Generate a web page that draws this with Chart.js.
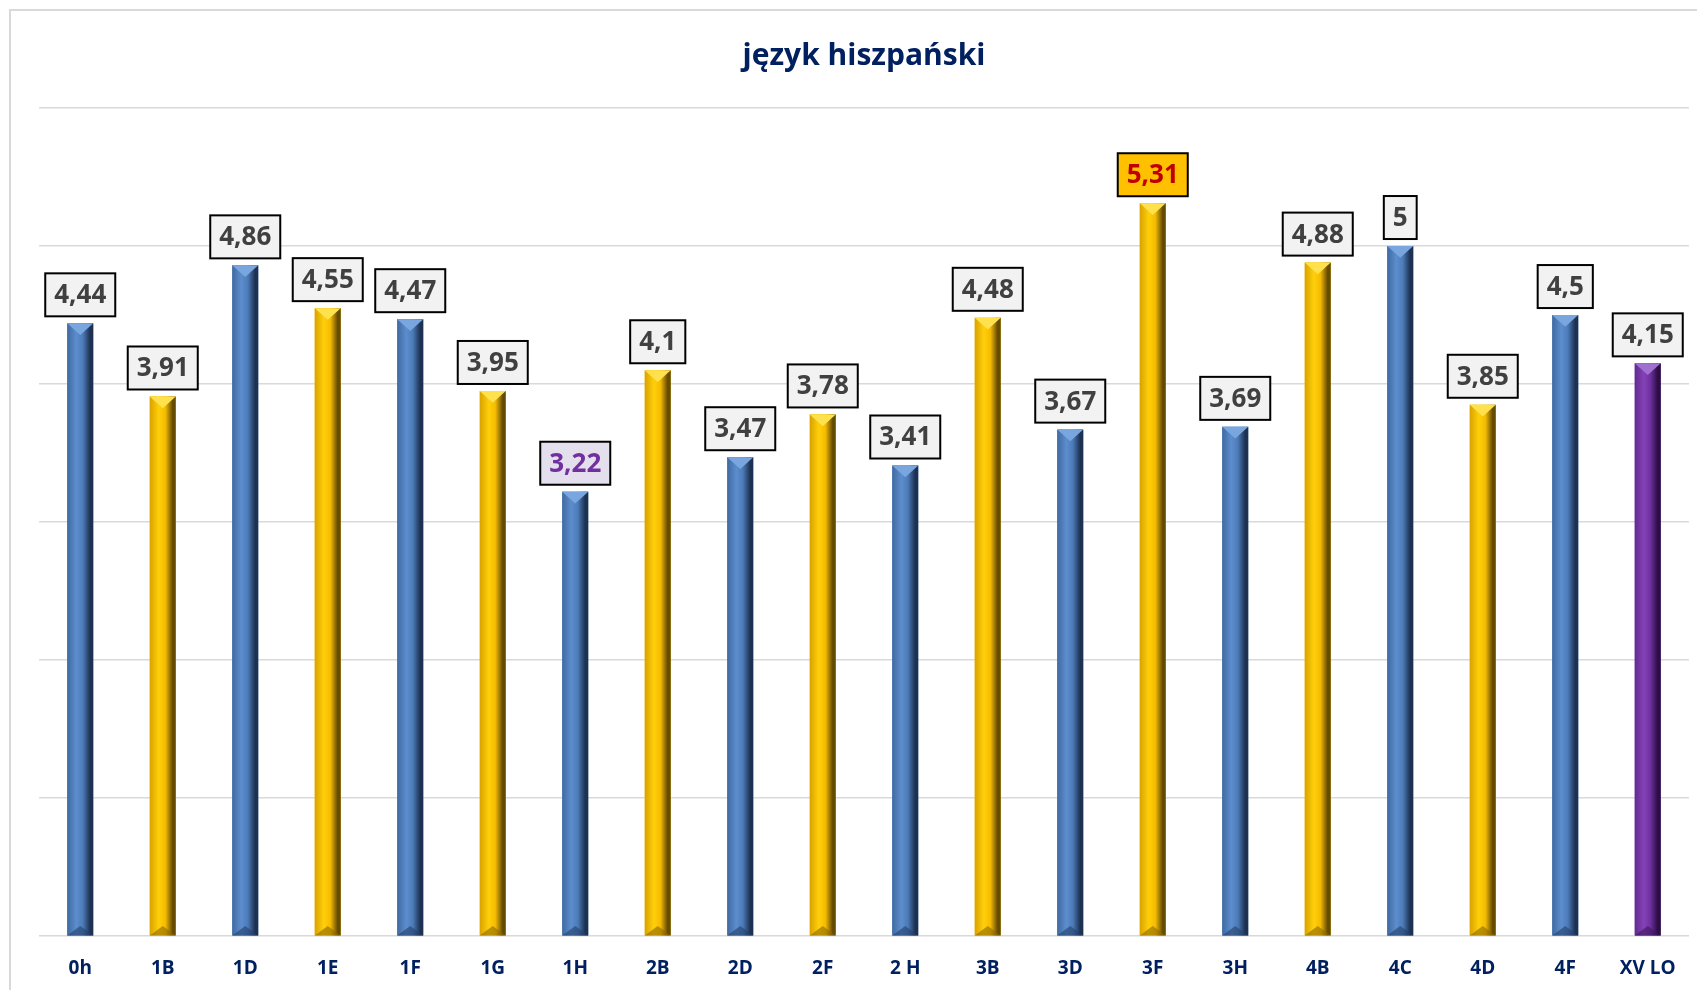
<!DOCTYPE html>
<html>
<head>
<meta charset="utf-8">
<script src="https://cdn.jsdelivr.net/npm/chart.js@4.4.1/dist/chart.umd.min.js"></script>
<style>
  html, body { margin: 0; padding: 0; background: #fff; overflow: hidden; }
  #frame { position: absolute; left: 9px; top: 9px; width: 1720px; height: 1010px; border: 2px solid #d9d9d9; }
  #wrap { position: absolute; left: 0; top: 0; width: 1697px; height: 1001px; }
</style>
</head>
<body>
<div id="frame"></div>
<div id="wrap"><canvas id="gradesChart"></canvas></div>
<script>
const categories = ['0h', '1B', '1D', '1E', '1F', '1G', '1H', '2B', '2D', '2F', '2 H', '3B', '3D', '3F', '3H', '4B', '4C', '4D', '4F', 'XV LO'];
const values = [4.44, 3.91, 4.86, 4.55, 4.47, 3.95, 3.22, 4.1, 3.47, 3.78, 3.41, 4.48, 3.67, 5.31, 3.69, 4.88, 5, 3.85, 4.5, 4.15];
const barKinds = ['blue', 'gold', 'blue', 'gold', 'blue', 'gold', 'blue', 'gold', 'blue', 'gold',
                  'blue', 'gold', 'blue', 'gold', 'blue', 'gold', 'blue', 'gold', 'blue', 'purple'];
const labelKinds = ['plain', 'plain', 'plain', 'plain', 'plain', 'plain', 'low', 'plain', 'plain', 'plain',
                    'plain', 'plain', 'plain', 'top', 'plain', 'plain', 'plain', 'plain', 'plain', 'plain'];

const palette = {
    blue:   { edge: '#3f6aa2', base: '#4c7bb8', light: '#5d8dcd', dark: '#1d3152', top: '#7aa6e0', bottom: '#24406a' },
    gold:   { edge: '#d9a200', base: '#f5bc00', light: '#ffcf0a', dark: '#654b00', top: '#ffe14d', bottom: '#8c6800' },
    purple: { edge: '#622a8e', base: '#7030a0', light: '#8442b8', dark: '#2c0e45', top: '#a070d0', bottom: '#3d155e' }
};
const labelStyles = {
    plain: { fill: '#f2f2f2', text: '#404040' },
    top:   { fill: '#ffc000', text: '#c00000' },
    low:   { fill: '#e4dfec', text: '#7030a0' }
};

// kolumny z efektem 3D (gradient + skosy), liczone z pozycji słupków Chart.js
const columnPlugin = {
    id: 'column3d',
    afterDatasetsDraw(chart) {
        const ctx = chart.ctx;
        chart.getDatasetMeta(0).data.forEach(function (bar, i) {
            const p = bar.getProps(['x', 'y', 'base', 'width'], true);
            const c = palette[barKinds[i]];
            const l = p.x - p.width / 2, r = p.x + p.width / 2;
            const g = ctx.createLinearGradient(l, 0, r, 0);
            g.addColorStop(0, c.edge);
            g.addColorStop(0.35, c.light);
            g.addColorStop(0.6, c.base);
            g.addColorStop(0.88, c.dark);
            g.addColorStop(1, c.dark);
            ctx.save();
            ctx.fillStyle = g;
            ctx.fillRect(l, p.y, p.width, p.base - p.y);
            const b = p.width * 0.45;
            ctx.fillStyle = c.top;
            ctx.beginPath();
            ctx.moveTo(l, p.y); ctx.lineTo(r, p.y); ctx.lineTo(p.x, p.y + b);
            ctx.closePath(); ctx.fill();
            ctx.fillStyle = c.bottom;
            ctx.globalAlpha = 0.6;
            ctx.beginPath();
            ctx.moveTo(l, p.base); ctx.lineTo(r, p.base); ctx.lineTo(p.x, p.base - b * 0.8);
            ctx.closePath(); ctx.fill();
            ctx.restore();
        });
    }
};

const labelPlugin = {
    id: 'valueBoxes',
    afterDraw(chart) {
        const ctx = chart.ctx;
        ctx.save();
        ctx.font = 'bold 26px "Open Sans"';
        ctx.textAlign = 'center';
        ctx.textBaseline = 'middle';
        chart.getDatasetMeta(0).data.forEach(function (bar, i) {
            const p = bar.getProps(['x', 'y'], true);
            const s = labelStyles[labelKinds[i]];
            const text = String(values[i]).replace('.', ',');
            const w = ctx.measureText(text).width + 18, h = 43;
            const bx = p.x - w / 2, by = p.y - 7 - h;
            ctx.fillStyle = s.fill;
            ctx.fillRect(bx, by, w, h);
            ctx.strokeStyle = '#000';
            ctx.lineWidth = 2;
            ctx.strokeRect(bx, by, w, h);
            ctx.fillStyle = s.text;
            ctx.fillText(text, p.x, by + h / 2 + 1);
        });
        ctx.restore();
    }
};

document.addEventListener('DOMContentLoaded', function () {
    const chartCtx = document.getElementById('gradesChart');
    new Chart(chartCtx, {
        type: 'bar',
        data: {
            labels: categories,
            datasets: [{
                data: values,
                backgroundColor: barKinds.map(function (k) { return palette[k].base; }),
                borderWidth: 0,
                barPercentage: 0.315,
                categoryPercentage: 1
            }]
        },
        options: {
            responsive: true,
            maintainAspectRatio: false,
            animation: false,
            devicePixelRatio: 1,
            layout: { padding: { left: 39, right: 8, top: 0, bottom: 0 } },
            plugins: {
                legend: { display: false },
                tooltip: { enabled: false },
                title: {
                    display: true,
                    text: 'język hiszpański',
                    color: '#002060',
                    font: { family: 'Open Sans', size: 30, weight: 'bold' },
                    padding: { top: 38, bottom: 34 }
                }
            },
            scales: {
                x: {
                    grid: { display: false, drawTicks: false },
                    border: { display: false },
                    ticks: {
                        color: '#002060',
                        font: { family: 'Open Sans', size: 19, weight: 'bold' },
                        padding: 21,
                        maxRotation: 0,
                        autoSkip: false
                    }
                },
                y: {
                    min: 0,
                    max: 6,
                    ticks: { display: false, stepSize: 1 },
                    grid: { color: '#d9d9d9', lineWidth: 1.5, drawTicks: false },
                    border: { display: false }
                }
            }
        },
        plugins: [columnPlugin, labelPlugin]
    });
});
</script>
</body>
</html>
